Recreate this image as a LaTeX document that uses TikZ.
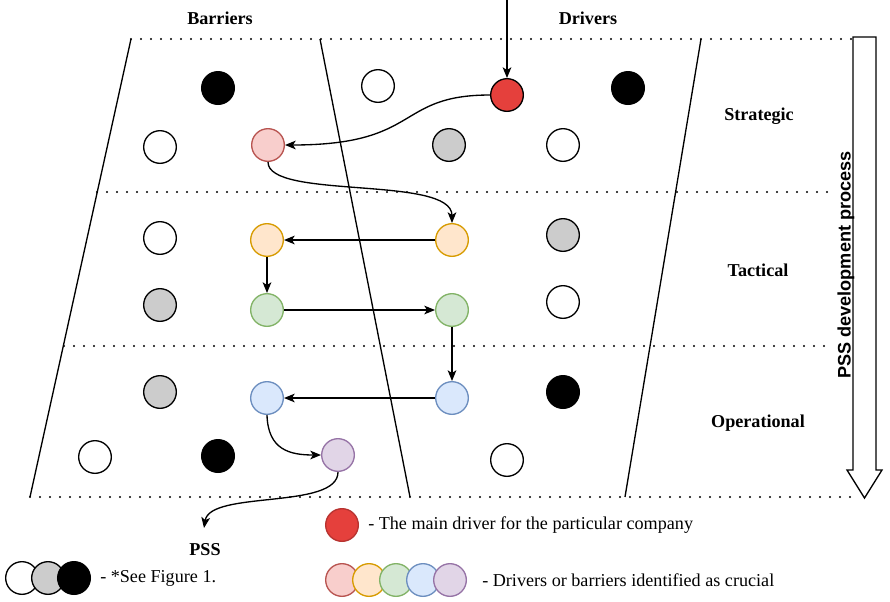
\documentclass[tikz,border=0pt]{standalone}
\usepackage{fontspec}
\setmainfont{Liberation Serif}
\newfontfamily\arialfont{Liberation Sans}
\usetikzlibrary{arrows.meta}
\definecolor{pinkF}{HTML}{F8CECC}\definecolor{pinkD}{HTML}{B85450}
\definecolor{orF}{HTML}{FFE6CC}\definecolor{orD}{HTML}{D79B00}
\definecolor{grF}{HTML}{D5E8D4}\definecolor{grD}{HTML}{82B366}
\definecolor{blF}{HTML}{DAE8FC}\definecolor{blD}{HTML}{6C8EBF}
\definecolor{puF}{HTML}{E1D5E7}\definecolor{puD}{HTML}{9673A6}
\definecolor{redF}{HTML}{E5403C}
\definecolor{greyF}{HTML}{CCCCCC}
\begin{document}
\begin{tikzpicture}[x=0.75pt,y=-0.75pt,
  circ/.style={circle,draw=black,line width=1pt,minimum size=24.5pt,inner sep=0pt},
  wc/.style={circ,fill=white},
  gc/.style={circ,fill=greyF},
  bc/.style={circ,fill=black},
  pc/.style={circ,fill=pinkF,draw=pinkD},
  oc/.style={circ,fill=orF,draw=orD},
  ec/.style={circ,fill=grF,draw=grD},
  uc/.style={circ,fill=blF,draw=blD},
  vc/.style={circ,fill=puF,draw=puD},
  rc/.style={circ,fill=redF},
  dotline/.style={line width=1.7pt,line cap=round,dash pattern=on 0pt off 7.5pt},
  bline/.style={line width=1pt},
  conn/.style={line width=1pt,-{Stealth[length=8pt,width=6.5pt,inset=2pt]}},
  lab/.style={font=\bfseries\fontsize{13.6}{16}\selectfont},
  leg/.style={font=\fontsize{13.6}{16}\selectfont,anchor=west,inner sep=0pt}
]
\path[use as bounding box] (0,0) rectangle (890,601);
% dotted rows
\draw[dotline] (131,39) -- (855,39);
\draw[dotline] (97,192) -- (830,192);
\draw[dotline] (64,346) -- (830,346);
\draw[dotline] (30,497) -- (855,497);
% boundaries
\draw[bline] (131,39) -- (30,497);
\draw[bline] (320,39) -- (410,497);
\draw[bline] (701,39) -- (625,497);
% big arrow
\draw[line width=1pt,fill=white] (853,37) -- (876,37) -- (876,470) -- (882,470) -- (864.5,498) -- (847,470) -- (853,470) -- cycle;
\node[rotate=90,font=\arialfont\bfseries\fontsize{13.6}{16}\selectfont] (proc) at (846,265) {PSS development process};
% labels
\node[lab] (bar) at (220,18) {Barriers};
\node[lab] (drv) at (588,18) {Drivers};
\node[lab] (str) at (759,116) {Strategic};
\node[lab] (tac) at (758,270) {Tactical};
\node[lab] (ope) at (758,423) {Operational};
\node[lab] (pss) at (205,550) {PSS};
% strategic circles
\node[bc] (s1) at (218,88) {};
\node[wc] (s2) at (378,86) {};
\node[rc] (red) at (507,95) {};
\node[bc] (s3) at (628,88) {};
\node[wc] (s4) at (160,147) {};
\node[pc] (pink) at (268,145) {};
\node[gc] (s5) at (449,145) {};
\node[wc] (s6) at (563,145) {};
% tactical
\node[wc] (t1) at (160,238) {};
\node[oc] (orL) at (267,240) {};
\node[oc] (orR) at (452,240) {};
\node[gc] (t2) at (563,235) {};
\node[gc] (t3) at (160,305) {};
\node[ec] (grL) at (267,310) {};
\node[ec] (grR) at (452,310) {};
\node[wc] (t4) at (563,302) {};
% operational
\node[gc] (o1) at (160,392) {};
\node[uc] (blL) at (267,398) {};
\node[uc] (blR) at (452,398) {};
\node[bc] (o2) at (563,392) {};
\node[wc] (o3) at (95,457) {};
\node[bc] (o4) at (218,456) {};
\node[vc] (pur) at (338,455) {};
\node[wc] (o5) at (507,460) {};
% connectors
\coordinate (topin) at (507,0);
\coordinate (pssin) at (204,528);
\draw[conn] (topin) -- (red.north);
\draw[conn] (red.west) .. controls (395,95) and (422,145) .. (pink.east);
\draw[conn] (pink.south) .. controls (268,200) and (452,175) .. (orR.north);
\draw[conn] (orR.west) -- (orL.east);
\draw[conn] (orL.south) -- (grL.north);
\draw[conn] (grL.east) -- (grR.west);
\draw[conn] (grR.south) -- (blR.north);
\draw[conn] (blR.west) -- (blL.east);
\draw[conn] (blL.south) .. controls (268,450) and (290,455) .. (pur.west);
\draw[conn] (pur.south) .. controls (338,510) and (210,490) .. (pssin);
% legend
\node[circ,fill=redF,draw=redF!80!black] (lr) at (342,525) {};
\node[leg] (lrt) at (368,525) {- The main driver for the particular company};
\node[circ,fill=pinkF,draw=pinkD] (l1) at (342,580) {};
\node[circ,fill=orF,draw=orD] (l2) at (369,580) {};
\node[circ,fill=grF,draw=grD] (l3) at (396,580) {};
\node[circ,fill=blF,draw=blD] (l4) at (423,580) {};
\node[circ,fill=puF,draw=puD] (l5) at (450,580) {};
\node[leg] (lct) at (482,580) {- Drivers or barriers identified as crucial};
\node[circ,fill=white] (k1) at (22,578) {};
\node[circ,fill=greyF] (k2) at (48,578) {};
\node[circ,fill=black] (k3) at (74,578) {};
\node[leg] (kt) at (100,578) {- *See Figure 1.};
\end{tikzpicture}
\end{document}
